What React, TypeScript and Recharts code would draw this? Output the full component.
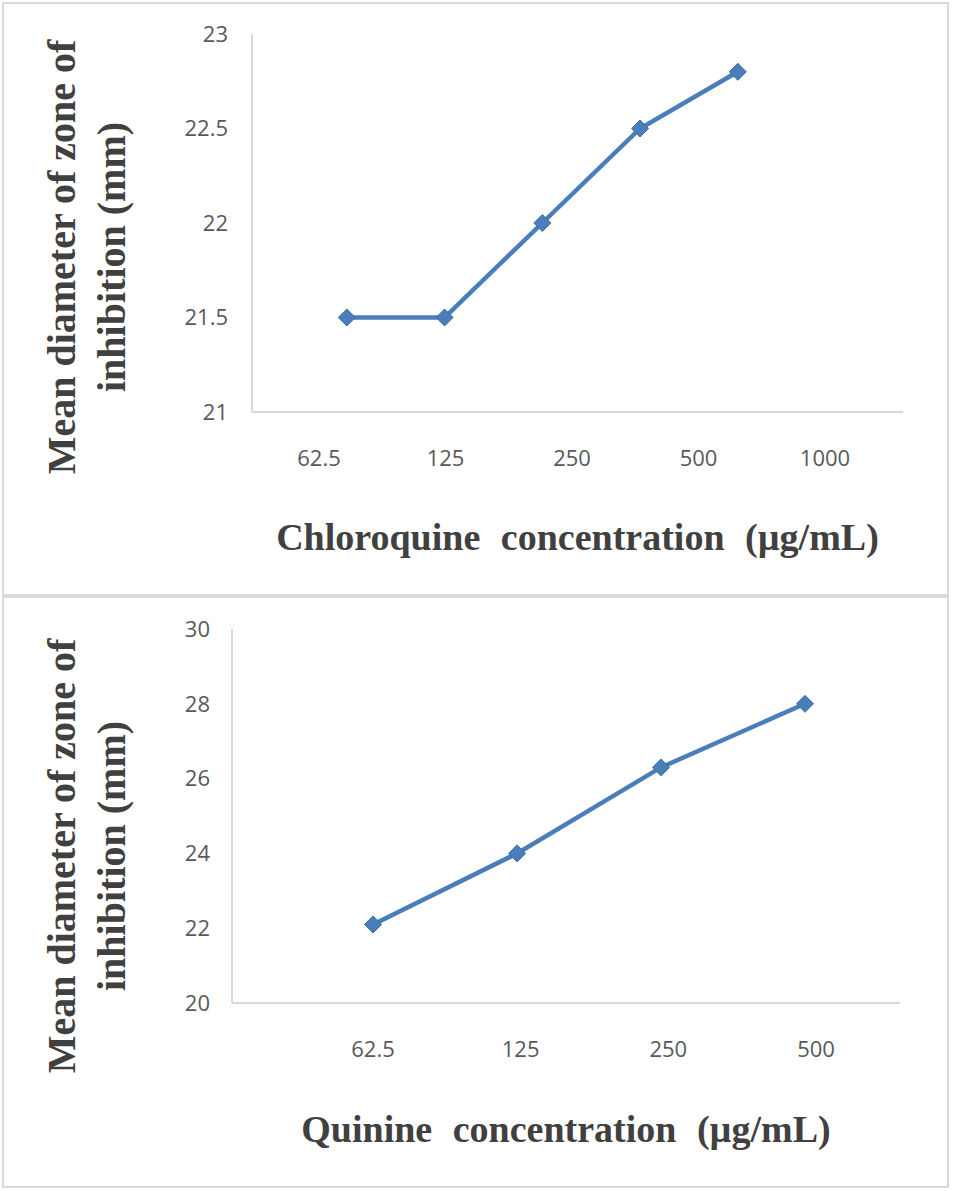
import { Label, Line, LineChart, XAxis, YAxis } from 'recharts'

// concentration labels (µg/mL), plotted step index and mean zone diameter (mm)
const chloroLabels = ['62.5', '125', '250', '500', '1000']
const chloroSteps = [1, 2, 3, 4, 5]
const chloroZone = [21.5, 21.5, 22, 22.5, 22.8]
const chloroTicks = [21, 21.5, 22, 22.5, 23]

const quinineLabels = ['62.5', '125', '250', '500']
const quinineSteps = [1, 2, 3, 4]
const quinineZone = [22.1, 24, 26.3, 28]
const quinineTicks = [20, 22, 24, 26, 28, 30]

const AXIS = '#d9d9d9'
const BLUE = '#4a7ebb'
const TITLE = '#404040'
const tickStyle = { fill: '#595959', fontSize: 22, fontFamily: 'Open Sans' }
const titleFont = { fontFamily: 'Liberation Serif', fontWeight: 700, fill: TITLE }

const Diamond = (props: any) => {
  const { cx, cy } = props
  if (cx == null || cy == null) return null
  const r = 8.5
  return (
    <path
      d={`M${cx},${cy - r}L${cx + r},${cy}L${cx},${cy + r}L${cx - r},${cy}Z`}
      fill={BLUE}
      stroke="#3d6ca5"
      strokeWidth={1}
    />
  )
}

type Plot = { left: number; right: number; top: number; bottom: number }

function ZoneChart(props: {
  labels: string[]
  steps: number[]
  values: number[]
  yTicks: number[]
  width: number
  height: number
  plot: Plot
  stepDomain: [number, number]
  labelPadding: { left: number; right: number }
  yTickGap: number
  xTitle: string
  xTitleY: number
  yTitleY: number
}) {
  const { labels, steps, values, yTicks, width, height, plot } = props
  const data = labels.map((conc, i) => ({ conc, step: steps[i], zone: values[i] }))
  const midX = (plot.left + plot.right) / 2

  return (
    <LineChart
      width={width}
      height={height}
      data={data}
      margin={{
        top: plot.top,
        right: width - plot.right,
        bottom: height - plot.bottom - 60,
        left: plot.left - 100,
      }}
    >
      <XAxis xAxisId="step" dataKey="step" type="number" domain={props.stepDomain} hide />
      <XAxis
        xAxisId="conc"
        dataKey="conc"
        type="category"
        interval={0}
        height={60}
        padding={props.labelPadding}
        axisLine={{ stroke: AXIS, strokeWidth: 2 }}
        tickLine={false}
        tickSize={0}
        tickMargin={38}
        tick={tickStyle}
      >
        <Label
          content={() => (
            <text x={midX} y={props.xTitleY} textAnchor="middle" fontSize={38} wordSpacing={11} {...titleFont}>
              {props.xTitle}
            </text>
          )}
        />
      </XAxis>
      <YAxis
        width={100}
        type="number"
        domain={[yTicks[0], yTicks[yTicks.length - 1]]}
        ticks={yTicks}
        interval={0}
        axisLine={{ stroke: AXIS, strokeWidth: 2 }}
        tickLine={false}
        tickSize={0}
        tickMargin={props.yTickGap}
        tick={tickStyle}
      >
        <Label
          content={() => (
            <g {...titleFont} fontSize={40}>
              <text x={75} y={props.yTitleY} transform={`rotate(-90 75 ${props.yTitleY})`} textAnchor="middle">
                Mean diameter of zone of
              </text>
              <text x={125} y={props.yTitleY} transform={`rotate(-90 125 ${props.yTitleY})`} textAnchor="middle">
                inhibition (mm)
              </text>
            </g>
          )}
        />
      </YAxis>
      <Line
        xAxisId="step"
        type="linear"
        dataKey="zone"
        stroke={BLUE}
        strokeWidth={4.5}
        dot={Diamond}
        activeDot={false}
        isAnimationActive={false}
      />
    </LineChart>
  )
}

const panel = (top: number, height: number): React.CSSProperties => ({
  position: 'absolute',
  left: 2,
  top,
  width: 947,
  height,
  border: '2px solid #d9d9d9',
  boxSizing: 'border-box',
})

export default function App() {
  return (
    <div style={{ position: 'absolute', left: 0, top: 0, width: 953, height: 1191, background: '#fff' }}>
      <div style={panel(2, 594)} />
      <div style={panel(596, 592)} />
      <div style={{ position: 'absolute', left: 0, top: 0 }}>
        <ZoneChart
          labels={chloroLabels}
          steps={chloroSteps}
          values={chloroZone}
          yTicks={chloroTicks}
          width={953}
          height={596}
          plot={{ left: 252, right: 903, top: 34, bottom: 412 }}
          stepDomain={[0.03, 6.69]}
          labelPadding={{ left: 67, right: 78 }}
          yTickGap={24}
          xTitle="Chloroquine concentration (µg/mL)"
          xTitleY={550}
          yTitleY={257}
        />
      </div>
      <div style={{ position: 'absolute', left: 0, top: 596 }}>
        <ZoneChart
          labels={quinineLabels}
          steps={quinineSteps}
          values={quinineZone}
          yTicks={quinineTicks}
          width={953}
          height={595}
          plot={{ left: 232, right: 900, top: 33, bottom: 407 }}
          stepDomain={[0.02, 4.66]}
          labelPadding={{ left: 141, right: 84 }}
          yTickGap={22}
          xTitle="Quinine concentration (µg/mL)"
          xTitleY={546}
          yTitleY={260}
        />
      </div>
    </div>
  )
}
